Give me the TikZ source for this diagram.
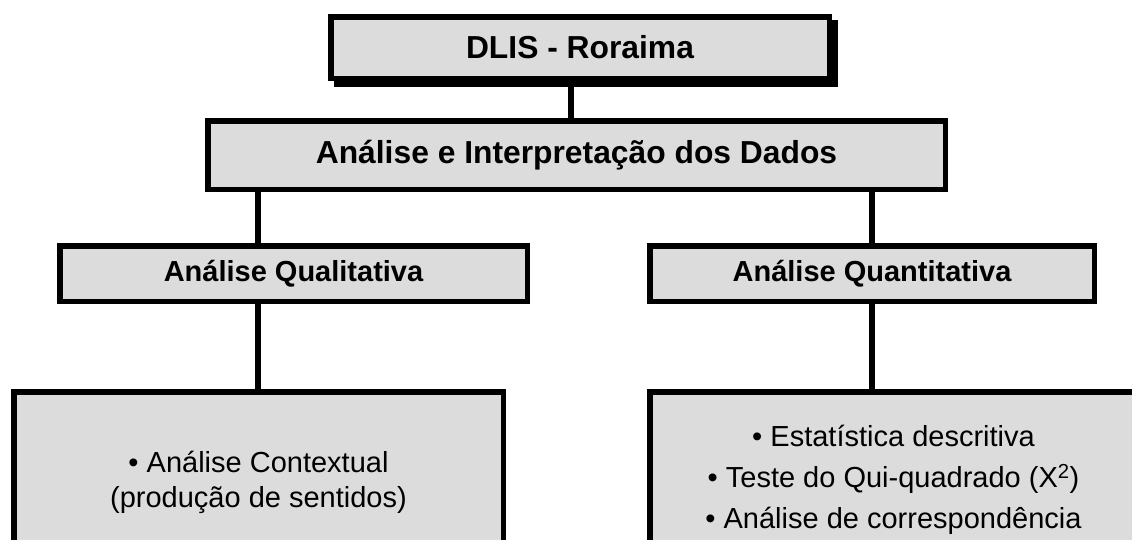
\documentclass[tikz,border=0pt]{standalone}
\usepackage{fontspec}
\setmainfont{Liberation Sans}
\definecolor{diagcolor0000}{RGB}{220,220,220}
\definecolor{diagcolor0001}{RGB}{0,0,0}

\begin{document}
\begin{tikzpicture}[yscale=-1
                ,bstyle1/.style={draw=diagcolor0001,fill=diagcolor0000,line width=5.5pt,inner sep=0pt,align=center}
                ,bstyle2/.style={color=diagcolor0001,line width=6pt}
                ,bstyle3/.style={fill=diagcolor0001}
                ,tstyle1/.style={font=\fontsize{31.8pt}{38pt}\selectfont\bfseries}
                ,tstyle2/.style={font=\fontsize{29pt}{35pt}\selectfont\bfseries}
            ]
            \clip (0pt,0pt) rectangle (1132pt,539pt);
            \fill[bstyle3] (334pt,20pt) rectangle (838pt,87pt);
            \node[bstyle1,tstyle1,minimum width=498.5pt,minimum height=61.5pt] (dlis) at (580pt,47.5pt) {DLIS - Roraima};
            \node[bstyle1,tstyle1,minimum width=737.5pt,minimum height=68.5pt] (dados) at (576.5pt,155pt) {Análise e Interpretação dos Dados};
            \node[bstyle1,tstyle2,minimum width=467.5pt,minimum height=55.5pt] (quali) at (293.5pt,273.5pt) {Análise Qualitativa};
            \node[bstyle1,tstyle2,minimum width=444.5pt,minimum height=55.5pt] (quanti) at (872pt,273.5pt) {Análise Quantitativa};
            \node[bstyle1,font=\fontsize{29pt}{35pt}\selectfont,minimum width=489.5pt,minimum height=181.5pt] (contextual) at (258.5pt,482.5pt) {• Análise Contextual\\(produção de sentidos)};
            \node[bstyle1,font=\fontsize{29pt}{41pt}\selectfont,minimum width=487.5pt,minimum height=176.5pt] (estat) at (893.5pt,480pt) {• Estatística descritiva\\• Teste do Qui-quadrado (X\textsuperscript{2})\\• Análise de correspondência};
            \coordinate (c1) at (571pt,0pt);
            \coordinate (c2) at (258pt,0pt);
            \coordinate (c3) at (872pt,0pt);
            \draw[bstyle2] (dlis.south -| c1) -- (dados.north -| c1);
            \draw[bstyle2] (dados.south -| c2) -- (quali.north -| c2);
            \draw[bstyle2] (dados.south -| c3) -- (quanti.north -| c3);
            \draw[bstyle2] (quali.south -| c2) -- (contextual.north -| c2);
            \draw[bstyle2] (quanti.south -| c3) -- (estat.north -| c3);
        \end{tikzpicture}
\end{document}
